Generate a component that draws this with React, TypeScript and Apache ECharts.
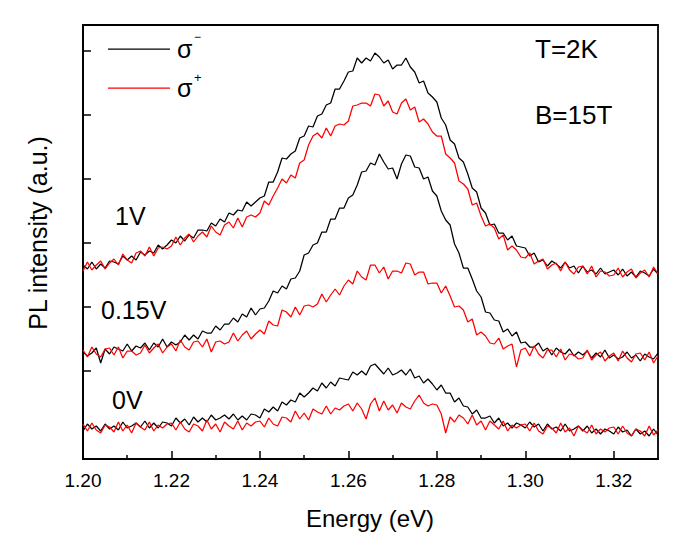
import React, { useEffect, useRef } from "react";
import * as echarts from "echarts";

// Energy grid: 1.200 eV to 1.330 eV, step 0.001 eV
const E_START = 1.2;
const E_STEP = 0.001;

// PL intensity (a.u.), offset traces
const sigmaMinus1V = [
  194,190,197,190,195,191,198,197,195,203,
  199,203,199,207,204,208,206,214,210,214,
  219,216,223,218,224,221,229,229,228,236,
  233,240,237,246,244,249,248,257,253,257,
  261,263,277,277,287,301,300,305,308,321,
  323,333,332,343,345,354,356,370,370,378,
  387,388,401,396,401,398,406,402,396,399,
  390,394,394,401,392,387,376,378,366,362,
  357,341,334,319,315,301,297,285,271,267,
  251,246,234,235,226,226,219,223,213,212,
  211,203,206,197,199,193,198,195,191,197,
  191,193,186,193,187,189,185,191,185,187,
  189,184,190,183,187,182,188,186,183,190,
  185,
];
const sigmaPlus1V = [
  188,197,189,194,198,190,196,200,194,205,
  199,196,206,208,203,212,203,211,212,210,
  213,222,214,221,225,217,223,227,222,233,
  227,224,234,237,231,241,232,242,244,242,
  246,258,254,263,271,280,276,284,281,296,
  299,314,323,326,321,331,323,333,335,334,
  338,353,354,356,356,353,365,364,353,358,
  347,345,356,360,349,352,337,340,335,327,
  323,323,305,301,296,278,275,270,254,256,
  243,233,235,231,220,224,209,213,209,202,
  201,206,195,198,200,190,194,196,188,197,
  189,185,192,193,185,193,182,188,187,183,
  184,191,182,187,190,181,186,189,182,192,
  185,
];
const sigmaMinus015V = [
  107,103,106,111,96,110,105,112,110,108,
  115,108,113,111,116,109,116,112,120,112,
  117,114,117,124,119,124,120,128,126,126,
  133,129,135,135,141,137,145,142,151,144,
  150,151,158,168,166,173,170,180,181,188,
  204,206,214,216,227,227,240,240,251,251,
  261,264,274,287,288,296,294,305,297,290,
  291,280,295,304,303,292,291,280,282,268,
  263,248,239,234,215,206,191,191,180,168,
  162,147,146,139,138,127,130,123,127,116,
  117,112,112,116,108,111,104,111,107,105,
  110,103,107,104,108,101,106,102,109,101,
  104,100,102,107,101,104,98,105,102,100,
  106,
];
const sigmaPlus015V = [
  109,102,112,105,102,110,111,104,112,101,
  108,108,104,106,114,106,111,115,106,112,
  115,108,119,112,109,117,118,112,120,107,
  117,118,115,117,126,118,124,128,120,125,
  129,125,138,134,133,149,147,142,152,144,
  153,154,152,155,165,157,164,170,164,173,
  179,175,188,182,179,194,194,186,192,180,
  188,188,186,196,195,184,187,187,175,176,
  176,166,173,163,152,153,149,137,140,124,
  127,123,116,115,121,110,113,115,92,109,
  111,103,113,105,101,109,109,102,110,99,
  105,104,100,101,109,99,104,107,98,103,
  106,98,108,101,97,105,106,99,107,96,
  103,
];
const sigmaMinus0V = [
  28,35,30,33,28,35,30,33,29,37,
  31,33,36,32,38,31,36,31,37,36,
  33,41,36,40,34,42,37,41,37,44,
  39,41,44,40,45,39,43,39,45,44,
  41,50,47,52,48,57,54,59,57,66,
  62,66,71,68,76,71,77,73,81,80,
  79,87,84,88,84,93,95,90,85,91,
  84,86,89,84,90,81,83,76,80,75,
  69,74,66,66,57,61,53,52,45,49,
  41,41,43,36,41,33,36,31,36,34,
  31,37,32,35,28,35,30,32,28,35,
  28,30,33,28,33,26,30,25,30,28,
  25,32,27,29,23,30,25,28,23,30,
  24,
];
const sigmaPlus0V = [
  35,28,36,29,26,34,32,27,37,28,
  34,26,36,32,29,37,28,34,31,35,
  36,29,37,30,27,35,33,28,39,30,
  35,27,37,33,30,38,29,36,33,37,
  38,32,41,35,33,42,41,37,48,40,
  46,39,50,47,45,53,45,51,49,53,
  55,48,56,50,40,55,61,48,58,49,
  54,46,56,52,50,58,64,56,53,55,
  54,45,26,42,37,44,41,35,44,34,
  38,29,38,34,30,38,28,34,31,34,
  35,28,36,28,25,33,31,26,36,27,
  31,23,33,29,26,34,25,30,27,31,
  32,25,33,26,23,30,28,23,33,24,
  29,
];

const xMajorTicks = [1.2, 1.22, 1.24, 1.26, 1.28, 1.3, 1.32];
const xMinorTicks = [1.21, 1.23, 1.25, 1.27, 1.29, 1.31];
const yTicks = [88, 152, 216, 280, 344, 408];
const traceLabels = ["1V", "0.15V", "0V"];
const condLabels = ["T=2K", "B=15T"];

const FONT = 'Arial, "Liberation Sans", Helvetica, sans-serif';

const toPairs = (arr: number[]) =>
  arr.map((v, i) => [Number((E_START + i * E_STEP).toFixed(3)), v]);

const lineSeries = (name: string, arr: number[], color: string) => ({
  name,
  type: "line",
  data: toPairs(arr),
  showSymbol: false,
  symbol: "none",
  lineStyle: { color, width: 1.25 },
  itemStyle: { color },
  xAxisIndex: 0,
  yAxisIndex: 0,
  z: color === "#000000" ? 2 : 3,
});

export default function App() {
  const ref = useRef<HTMLDivElement>(null);
  useEffect(() => {
    if (!ref.current) return;
    const chart = echarts.init(ref.current, null, { renderer: "svg" });
    const text = (t: string, x: number, y: number, size: number, extra: any = {}) => ({
      type: "text",
      x,
      y,
      style: {
        text: t,
        fontSize: size,
        fontFamily: FONT,
        fill: "#000",
        align: "left",
        verticalAlign: "middle",
        ...extra,
      },
      z: 10,
    });
    chart.setOption({
      animation: false,
      backgroundColor: "#ffffff",
      grid: {
        left: 83,
        top: 25,
        right: 27,
        bottom: 86,
        show: true,
        borderColor: "#000",
        borderWidth: 1.8,
        backgroundColor: "transparent",
        outerBoundsMode: "none",
      },
      xAxis: [
        {
          type: "value",
          min: 1.2,
          max: 1.33,
          interval: 0.02,
          axisLine: { show: true, lineStyle: { color: "#000", width: 1.8 } },
          axisTick: {
            show: true,
            inside: true,
            length: 8,
            customValues: xMajorTicks,
            lineStyle: { color: "#000", width: 1.5 },
          },
          axisLabel: {
            show: true,
            customValues: xMajorTicks,
            formatter: (v: number) => v.toFixed(2),
            fontSize: 19,
            fontFamily: FONT,
            color: "#000",
            margin: 12,
          },
          splitLine: { show: false },
        },
        {
          type: "value",
          position: "bottom",
          min: 1.2,
          max: 1.33,
          interval: 0.01,
          axisLine: { show: false },
          axisTick: {
            show: true,
            inside: true,
            length: 4,
            customValues: xMinorTicks,
            lineStyle: { color: "#000", width: 1.5 },
          },
          axisLabel: { show: false },
          splitLine: { show: false },
        },
      ],
      yAxis: [
        {
          type: "value",
          min: 0,
          max: 434,
          axisLine: { show: true, lineStyle: { color: "#000", width: 1.8 } },
          axisTick: {
            show: true,
            inside: true,
            length: 8,
            customValues: yTicks,
            lineStyle: { color: "#000", width: 1.5 },
          },
          axisLabel: { show: false },
          splitLine: { show: false },
        },
      ],
      series: [
        lineSeries("σ⁻ 1V", sigmaMinus1V, "#000000"),
        lineSeries("σ⁻ 0.15V", sigmaMinus015V, "#000000"),
        lineSeries("σ⁻ 0V", sigmaMinus0V, "#000000"),
        lineSeries("σ⁺ 1V", sigmaPlus1V, "#ff0000"),
        lineSeries("σ⁺ 0.15V", sigmaPlus015V, "#ff0000"),
        lineSeries("σ⁺ 0V", sigmaPlus0V, "#ff0000"),
      ],
      graphic: [
        {
          type: "line",
          shape: { x1: 108, y1: 49, x2: 170, y2: 49 },
          style: { stroke: "#000", lineWidth: 1.25 },
          z: 10,
        },
        {
          type: "line",
          shape: { x1: 108, y1: 88, x2: 170, y2: 88 },
          style: { stroke: "#ff0000", lineWidth: 1.25 },
          z: 10,
        },
        text("σ", 177, 49, 25),
        text("−", 194, 37, 12),
        text("σ", 177, 88, 25),
        text("+", 194, 77, 13),
        text(condLabels[0], 535, 49, 26),
        text(condLabels[1], 535, 115, 26),
        text(traceLabels[0], 115, 216, 25),
        text(traceLabels[1], 101, 310, 25),
        text(traceLabels[2], 112, 400, 25),
        text("Energy (eV)", 370, 518, 24, { align: "center" }),
        {
          type: "text",
          x: 38,
          y: 233,
          rotation: Math.PI / 2,
          style: {
            text: "PL intensity (a.u.)",
            fontSize: 25,
            fontFamily: FONT,
            fill: "#000",
            align: "center",
            verticalAlign: "middle",
          },
          z: 10,
        },
      ],
    });
    return () => chart.dispose();
  }, []);
  return (
    <div
      ref={ref}
      style={{ position: "fixed", left: 0, top: 0, width: 685, height: 545, background: "#fff" }}
    />
  );
}
